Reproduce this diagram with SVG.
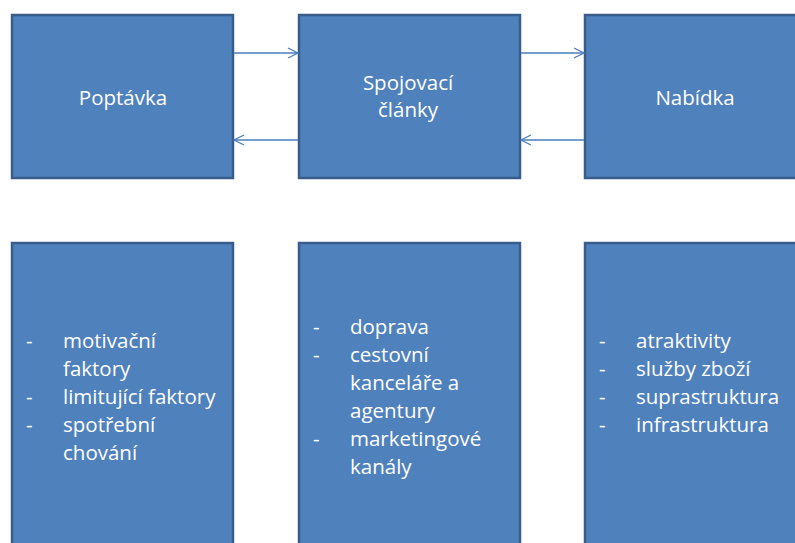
<svg xmlns="http://www.w3.org/2000/svg" width="795" height="543" viewBox="0 0 795 543">
<style>
.box{fill:#4f81bd;stroke:#385d8a;stroke-width:2.5}
.t{font-family:"Open Sans","Liberation Sans",sans-serif;font-size:20.5px;fill:#ffffff}
.c{text-anchor:middle}
.con{stroke:#4a7ebb;stroke-width:1.3;fill:none}
</style>
<defs>
<marker id="ah" viewBox="0 0 12 12" refX="11" refY="6" markerWidth="12" markerHeight="12" markerUnits="userSpaceOnUse" orient="auto">
<path d="M1,1 L11,6 L1,11" fill="none" stroke="#4a7ebb" stroke-width="1.3"/>
</marker>
</defs>
<rect width="795" height="543" fill="#ffffff"/>
<g id="poptavka"><rect class="box" x="12" y="15" width="221" height="163"/><text class="t c" x="123" y="105">Poptávka</text></g>
<g id="spojovaci"><rect class="box" x="299" y="15" width="221" height="163"/><text class="t c" x="408" y="90">Spojovací</text><text class="t c" x="408" y="117">články</text></g>
<g id="nabidka"><rect class="box" x="585" y="15" width="230" height="163"/><text class="t c" x="695" y="105">Nabídka</text></g>
<g id="poptavka-list"><rect class="box" x="12" y="243" width="221" height="320"/>
<text class="t" x="26" y="348">-</text><text class="t" x="63" y="348">motivační</text>
<text class="t" x="63" y="376">faktory</text>
<text class="t" x="26" y="404">-</text><text class="t" x="63" y="404">limitující faktory</text>
<text class="t" x="26" y="432">-</text><text class="t" x="63" y="432">spotřební</text>
<text class="t" x="63" y="460">chování</text></g>
<g id="spojovaci-list"><rect class="box" x="299" y="243" width="221" height="320"/>
<text class="t" x="313" y="334">-</text><text class="t" x="350" y="334">doprava</text>
<text class="t" x="313" y="362">-</text><text class="t" x="350" y="362">cestovní</text>
<text class="t" x="350" y="390">kanceláře a</text>
<text class="t" x="350" y="418">agentury</text>
<text class="t" x="313" y="446">-</text><text class="t" x="350" y="446">marketingové</text>
<text class="t" x="350" y="474">kanály</text></g>
<g id="nabidka-list"><rect class="box" x="585" y="243" width="230" height="320"/>
<text class="t" x="599" y="348">-</text><text class="t" x="636" y="348">atraktivity</text>
<text class="t" x="599" y="376">-</text><text class="t" x="636" y="376">služby zboží</text>
<text class="t" x="599" y="404">-</text><text class="t" x="636" y="404">suprastruktura</text>
<text class="t" x="599" y="432">-</text><text class="t" x="636" y="432">infrastruktura</text></g>
<g id="connectors">
<line class="con" x1="234" y1="53" x2="298" y2="53" marker-end="url(#ah)"/>
<line class="con" x1="298" y1="140" x2="234" y2="140" marker-end="url(#ah)"/>
<line class="con" x1="521" y1="53" x2="584" y2="53" marker-end="url(#ah)"/>
<line class="con" x1="584" y1="140" x2="521" y2="140" marker-end="url(#ah)"/>
</g>
</svg>
